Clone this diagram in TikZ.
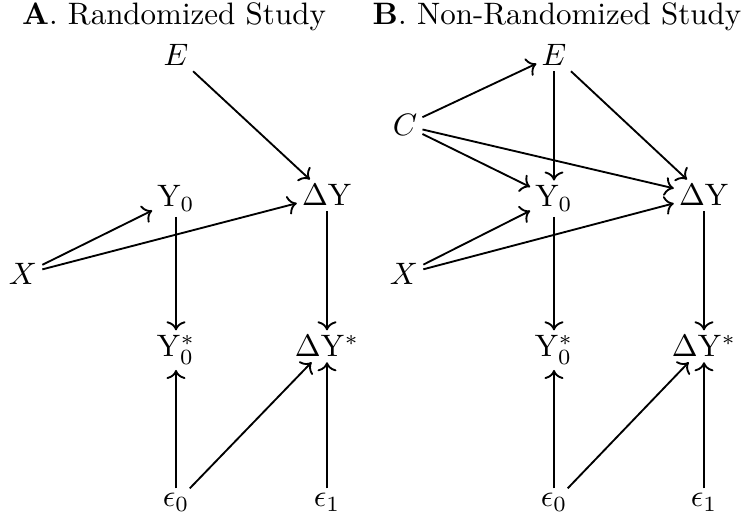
\documentclass[tikz,border=0pt]{standalone}
\usetikzlibrary{arrows.meta}
\begin{document}
\begin{tikzpicture}[x=0.3226pt,y=-0.3226pt,
  v/.style={inner sep=1.5pt,anchor=base},
  edge/.style={->,semithick}]
\useasboundingbox (0,0) rectangle (742,519);
% titles
\node[anchor=base] (ta) at (174,25) {\textbf{A}. Randomized Study};
\node[anchor=base] (tb) at (557,25) {\textbf{B}. Non-Randomized Study};
% panel A
\node[v] (aE) at (176,66) {$E$};
\node[v] (aY) at (176,207) {$\mathrm{Y}_0$};
\node[v] (aD) at (327,206) {$\Delta\mathrm{Y}$};
\node[v] (aX) at (23,285) {$X$};
\node[v] (aYs) at (176,357) {$\mathrm{Y}_0^*$};
\node[v] (aDs) at (327,357) {$\Delta\mathrm{Y}^*$};
\node[v] (ae0) at (176,507) {$\epsilon_0$};
\node[v] (ae1) at (327,507) {$\epsilon_1$};
\draw[edge] (aE) -- (aD);
\draw[edge] (aX) -- (aY);
\draw[edge] (aX) -- (aD);
\draw[edge] (aY) -- (aYs);
\draw[edge] (aD) -- (aDs);
\draw[edge] (ae0) -- (aYs);
\draw[edge] (ae0) -- (aDs);
\draw[edge] (ae1) -- (aDs);
% panel B
\node[v] (bE) at (554,66) {$E$};
\node[v] (bC) at (405,136) {$C$};
\node[v] (bY) at (554,207) {$\mathrm{Y}_0$};
\node[v] (bD) at (704,206) {$\Delta\mathrm{Y}$};
\node[v] (bX) at (404,285) {$X$};
\node[v] (bYs) at (554,357) {$\mathrm{Y}_0^*$};
\node[v] (bDs) at (704,357) {$\Delta\mathrm{Y}^*$};
\node[v] (be0) at (554,507) {$\epsilon_0$};
\node[v] (be1) at (704,507) {$\epsilon_1$};
\draw[edge] (bC) -- (bE);
\draw[edge] (bC) -- (bY);
\draw[edge] (bC) -- (bD);
\draw[edge] (bE) -- (bY);
\draw[edge] (bE) -- (bD);
\draw[edge] (bX) -- (bY);
\draw[edge] (bX) -- (bD);
\draw[edge] (bY) -- (bYs);
\draw[edge] (bD) -- (bDs);
\draw[edge] (be0) -- (bYs);
\draw[edge] (be0) -- (bDs);
\draw[edge] (be1) -- (bDs);
\end{tikzpicture}
\end{document}
